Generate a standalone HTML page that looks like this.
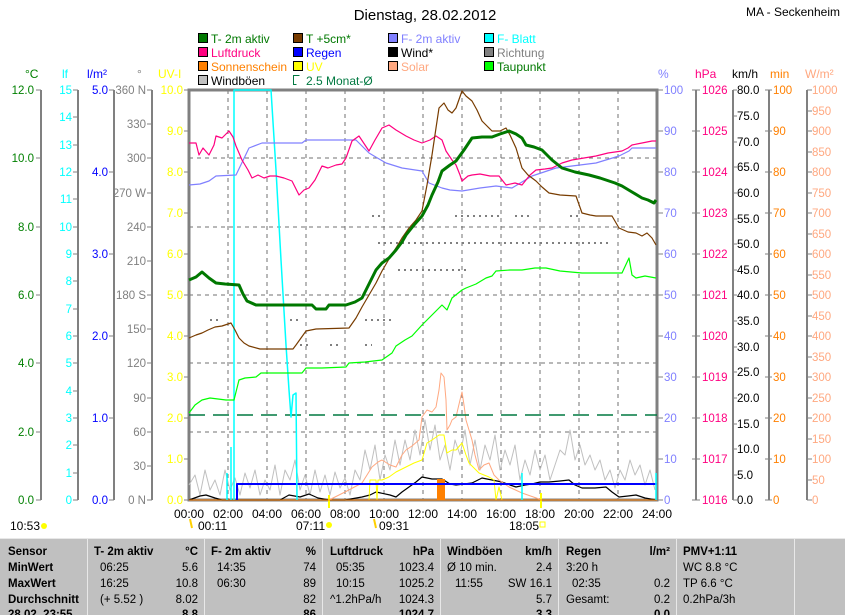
<!DOCTYPE html>
<html><head><meta charset="utf-8"><style>
body{margin:0;background:#fff;width:845px;height:615px;overflow:hidden}
svg{display:block;font-family:"Liberation Sans",sans-serif}
</style></head><body>
<svg width="845" height="615" viewBox="0 0 845 615" xmlns="http://www.w3.org/2000/svg">
<rect width="845" height="615" fill="#fff"/>
<text x="425" y="20" font-size="15" text-anchor="middle" fill="#000">Dienstag, 28.02.2012</text>
<text x="840" y="16" font-size="12" text-anchor="end" fill="#000">MA - Seckenheim</text>
<!-- legend -->
<g font-size="12" stroke="#000" stroke-width="1">
<rect x="198.5" y="33.5" width="9" height="9" fill="#007800"/>
<rect x="293.5" y="33.5" width="9" height="9" fill="#783c00"/>
<rect x="388.5" y="33.5" width="9" height="9" fill="#8080ff"/>
<rect x="484.5" y="33.5" width="9" height="9" fill="#00ffff"/>
<rect x="198.5" y="47.5" width="9" height="9" fill="#ff0080"/>
<rect x="293.5" y="47.5" width="9" height="9" fill="#0000ff"/>
<rect x="388.5" y="47.5" width="9" height="9" fill="#000"/>
<rect x="484.5" y="47.5" width="9" height="9" fill="#808080"/>
<rect x="198.5" y="61.5" width="9" height="9" fill="#ff8000"/>
<rect x="293.5" y="61.5" width="9" height="9" fill="#ffff00"/>
<rect x="388.5" y="61.5" width="9" height="9" fill="#ffa880"/>
<rect x="484.5" y="61.5" width="9" height="9" fill="#00ff00"/>
<rect x="198.5" y="75.5" width="9" height="9" fill="#c0c0c0"/>
<path d="M299.5 75.5h-6v9h3" fill="none" stroke="#007840"/>
</g>
<g font-size="12" stroke="none">
<text x="211" y="43" fill="#007800">T- 2m aktiv</text>
<text x="306" y="43" fill="#007800">T +5cm*</text>
<text x="401" y="43" fill="#8080ff">F- 2m aktiv</text>
<text x="497" y="43" fill="#00ffff">F- Blatt</text>
<text x="211" y="57" fill="#ff0080">Luftdruck</text>
<text x="306" y="57" fill="#0000ff">Regen</text>
<text x="401" y="57" fill="#000">Wind*</text>
<text x="497" y="57" fill="#808080">Richtung</text>
<text x="211" y="71" fill="#ff8000">Sonnenschein</text>
<text x="306" y="71" fill="#ffff00">UV</text>
<text x="401" y="71" fill="#ffa880">Solar</text>
<text x="497" y="71" fill="#007800">Taupunkt</text>
<text x="211" y="85" fill="#000">Windböen</text>
<text x="306" y="85" fill="#007840">2.5 Monat-Ø</text>
</g>
<!-- unit headers -->
<g font-size="12">
<text x="25" y="78" fill="#008000">°C</text>
<text x="62" y="78" fill="#00ffff">lf</text>
<text x="87" y="78" fill="#0000ff">l/m²</text>
<text x="137" y="78" fill="#808080">°</text>
<text x="158" y="78" fill="#ffff00">UV-I</text>
<text x="658" y="78" fill="#8080ff">%</text>
<text x="695" y="78" fill="#ff0080">hPa</text>
<text x="732" y="78" fill="#000">km/h</text>
<text x="770" y="78" fill="#ff8000">min</text>
<text x="805" y="78" fill="#ffa880">W/m²</text>
</g>
<!-- axis lines -->
<g stroke="#808080" stroke-width="2">
<line x1="41" y1="90" x2="41" y2="500"/><line x1="78" y1="90" x2="78" y2="500"/>
<line x1="114" y1="90" x2="114" y2="500"/><line x1="152" y1="90" x2="152" y2="500"/>
<line x1="696" y1="90" x2="696" y2="500"/><line x1="733" y1="90" x2="733" y2="500"/>
<line x1="769" y1="90" x2="769" y2="500"/><line x1="807" y1="90" x2="807" y2="500"/>
</g>
<!-- grid -->
<g stroke="#707070" stroke-width="1" stroke-dasharray="4,4">
<path d="M228 90V500M267 90V500M306 90V500M345 90V500M384 90V500M423 90V500M462 90V500M501 90V500M540 90V500M579 90V500M618 90V500"/>
<path d="M189 158H657M189 227H657M189 295H657M189 363H657M189 432H657"/>
</g>
<rect x="189" y="90" width="468" height="410" fill="none" stroke="#808080" stroke-width="3"/>
<!-- left ticks & labels -->
<g font-size="11.5" text-anchor="end">
<g fill="#008000"><text x="34" y="94">12.0</text><text x="34" y="162">10.0</text><text x="34" y="231">8.0</text><text x="34" y="299">6.0</text><text x="34" y="367">4.0</text><text x="34" y="436">2.0</text><text x="34" y="504">0.0</text></g>
<path stroke="#808080" d="M36 90H41M36 158H41M36 227H41M36 295H41M36 363H41M36 432H41M36 500H41"/>
<g fill="#00ffff"><text x="72" y="94">15</text><text x="72" y="121">14</text><text x="72" y="149">13</text><text x="72" y="176">12</text><text x="72" y="203">11</text><text x="72" y="231">10</text><text x="72" y="258">9</text><text x="72" y="285">8</text><text x="72" y="313">7</text><text x="72" y="340">6</text><text x="72" y="367">5</text><text x="72" y="395">4</text><text x="72" y="422">3</text><text x="72" y="449">2</text><text x="72" y="477">1</text><text x="72" y="504">0</text></g>
<path stroke="#808080" d="M73 90H78M73 117H78M73 145H78M73 172H78M73 199H78M73 227H78M73 254H78M73 281H78M73 309H78M73 336H78M73 363H78M73 391H78M73 418H78M73 445H78M73 473H78M73 500H78"/>
<g fill="#0000ff"><text x="108" y="94">5.0</text><text x="108" y="176">4.0</text><text x="108" y="258">3.0</text><text x="108" y="340">2.0</text><text x="108" y="422">1.0</text><text x="108" y="504">0.0</text></g>
<path stroke="#808080" d="M109 90H114M109 172H114M109 254H114M109 336H114M109 418H114M109 500H114"/>
<g fill="#808080"><text x="146" y="94">360 N</text><text x="146" y="128">330</text><text x="146" y="162">300</text><text x="146" y="197">270 W</text><text x="146" y="231">240</text><text x="146" y="265">210</text><text x="146" y="299">180 S</text><text x="146" y="333">150</text><text x="146" y="367">120</text><text x="146" y="402">90</text><text x="146" y="436">60</text><text x="146" y="470">30</text><text x="146" y="504">0 N</text></g>
<path stroke="#808080" d="M147 90H152M147 124H152M147 158H152M147 193H152M147 227H152M147 261H152M147 295H152M147 329H152M147 363H152M147 398H152M147 432H152M147 466H152M147 500H152"/>
<g fill="#ffff00"><text x="183" y="94">10.0</text><text x="183" y="135">9.0</text><text x="183" y="176">8.0</text><text x="183" y="217">7.0</text><text x="183" y="258">6.0</text><text x="183" y="299">5.0</text><text x="183" y="340">4.0</text><text x="183" y="381">3.0</text><text x="183" y="422">2.0</text><text x="183" y="463">1.0</text><text x="183" y="504">0.0</text></g>
<path stroke="#808080" d="M184 90H189M184 131H189M184 172H189M184 213H189M184 254H189M184 295H189M184 336H189M184 377H189M184 418H189M184 459H189M184 500H189"/>
</g>
<!-- right ticks & labels -->
<g font-size="11.5">
<g fill="#8080ff"><text x="664" y="94">100</text><text x="664" y="135">90</text><text x="664" y="176">80</text><text x="664" y="217">70</text><text x="664" y="258">60</text><text x="664" y="299">50</text><text x="664" y="340">40</text><text x="664" y="381">30</text><text x="664" y="422">20</text><text x="664" y="463">10</text><text x="664" y="504">0</text></g>
<path stroke="#808080" d="M657 90H663M657 131H663M657 172H663M657 213H663M657 254H663M657 295H663M657 336H663M657 377H663M657 418H663M657 459H663M657 500H663"/>
<g fill="#ff0080"><text x="702" y="94">1026</text><text x="702" y="135">1025</text><text x="702" y="176">1024</text><text x="702" y="217">1023</text><text x="702" y="258">1022</text><text x="702" y="299">1021</text><text x="702" y="340">1020</text><text x="702" y="381">1019</text><text x="702" y="422">1018</text><text x="702" y="463">1017</text><text x="702" y="504">1016</text></g>
<path stroke="#808080" d="M692 90H700M692 131H700M692 172H700M692 213H700M692 254H700M692 295H700M692 336H700M692 377H700M692 418H700M692 459H700M692 500H700"/>
<g fill="#000"><text x="737" y="94">80.0</text><text x="737" y="120">75.0</text><text x="737" y="146">70.0</text><text x="737" y="171">65.0</text><text x="737" y="197">60.0</text><text x="737" y="223">55.0</text><text x="737" y="248">50.0</text><text x="737" y="274">45.0</text><text x="737" y="299">40.0</text><text x="737" y="325">35.0</text><text x="737" y="351">30.0</text><text x="737" y="376">25.0</text><text x="737" y="402">20.0</text><text x="737" y="428">15.0</text><text x="737" y="453">10.0</text><text x="737" y="479">5.0</text><text x="737" y="504">0.0</text></g>
<path stroke="#808080" d="M733 90H737M733 116H737M733 142H737M733 167H737M733 193H737M733 219H737M733 244H737M733 270H737M733 295H737M733 321H737M733 347H737M733 372H737M733 398H737M733 424H737M733 449H737M733 475H737M733 500H737"/>
<g fill="#ff8000"><text x="773" y="94">100</text><text x="773" y="135">90</text><text x="773" y="176">80</text><text x="773" y="217">70</text><text x="773" y="258">60</text><text x="773" y="299">50</text><text x="773" y="340">40</text><text x="773" y="381">30</text><text x="773" y="422">20</text><text x="773" y="463">10</text><text x="773" y="504">0</text></g>
<path stroke="#808080" d="M765 90H772M765 131H772M765 172H772M765 213H772M765 254H772M765 295H772M765 336H772M765 377H772M765 418H772M765 459H772M765 500H772"/>
<g fill="#ffa880"><text x="812" y="94">1000</text><text x="812" y="115">950</text><text x="812" y="135">900</text><text x="812" y="156">850</text><text x="812" y="176">800</text><text x="812" y="197">750</text><text x="812" y="217">700</text><text x="812" y="238">650</text><text x="812" y="258">600</text><text x="812" y="279">550</text><text x="812" y="299">500</text><text x="812" y="320">450</text><text x="812" y="340">400</text><text x="812" y="361">350</text><text x="812" y="381">300</text><text x="812" y="402">250</text><text x="812" y="422">200</text><text x="812" y="443">150</text><text x="812" y="463">100</text><text x="812" y="484">50</text><text x="812" y="504">0</text></g>
<path stroke="#808080" d="M807 90H812M807 111H812M807 131H812M807 152H812M807 172H812M807 193H812M807 213H812M807 234H812M807 254H812M807 275H812M807 295H812M807 316H812M807 336H812M807 357H812M807 377H812M807 398H812M807 418H812M807 439H812M807 459H812M807 480H812M807 500H812"/>
</g>
<!-- series -->
<g fill="none" stroke-linejoin="round">
<path stroke="#808080" stroke-width="2" stroke-dasharray="2,4" d="M372 216H380M455 216H500M515 216H530M570 216H580M378 243H420M420 243H610M398 270H470M210 320H220M290 320H300M365 320H395M300 345H310M330 345H340M365 345H372"/>
<path stroke="#c0c0c0" d="M189 485L195 475L200 495L205 470L210 490L215 480L220 495L225 470L230 490L235 478L240 495L245 473L250 488L255 470L260 495L265 480L270 490L275 465L280 495L285 470L290 480L295 460L300 490L305 475L310 495L315 470L320 492L325 475L330 495L335 472L340 488L345 478L350 495L355 470L360 480L365 450L370 470L375 445L380 480L385 455L390 470L395 440L400 465L405 440L410 460L415 430L420 455L425 420L430 450L435 425L440 460L445 445L450 470L455 440L460 455L465 430L470 465L475 440L480 470L485 445L490 460L495 435L500 470L505 450L510 465L515 445L520 480L525 460L530 475L535 450L540 470L545 455L550 480L555 465L560 450L565 455L570 430L575 460L580 445L585 465L590 455L595 470L600 460L605 480L610 470L615 488L620 470L625 480L630 460L635 475L640 465L645 485L650 470L655 490"/>
<path stroke="#000" stroke-width="1.2" d="M189 500L200 496L206 495L215 498L222 500L280 500L289 495L300 497L309 494L318 498L329 500L345 500L362 497L370 495L376 492L390 495L396 497L402 492L409 487L416 482L422 477L432 479L442 479L450 484L456 485L464 484L472 483L478 480L482 478L492 480L502 482L510 485L516 487L525 485L532 484L540 482L549 482L560 481L569 480L575 485L582 488L595 488L606 487L612 492L619 497L628 496L636 495L645 498L656 500"/>
<path stroke="#ffa880" d="M329 500L345 492L362 483L367 475L372 467L378 462L382 460L390 465L396 467L402 455L406 450L412 446L419 440L422 417L427 410L432 412L436 407L439 390L441 373L444 377L446 400L447 430L450 425L452 420L456 417L460 400L462 392L464 405L466 420L469 430L472 440L475 455L479 470L484 465L489 463L494 475L499 480L509 487L522 493L542 500"/>
<path stroke="#ffff00" d="M369 500L370 480L376 480L377 500L378 480L382 480L389 477L396 472L406 467L414 463L422 460L427 443L432 440L439 435L444 435L447 453L452 450L456 450L462 443L466 455L469 463L474 468L479 473L489 477L494 480L496 500L499 487L502 500"/>
<path stroke="#ffff00" stroke-width="2" d="M329 495V508M541 493V508"/>
<rect x="437" y="479" width="8" height="21" fill="#ff8000" stroke="none"/>
<path stroke="#ff8000" d="M189 500H657"/>
<path stroke="#0000ff" stroke-width="2" d="M237 500V484H657"/>
<path stroke="#007840" stroke-width="1.5" stroke-dasharray="16,8" d="M189 415H657"/>
<path stroke="#00ffff" stroke-width="1.5" d="M227 473V500M231 447V500M234 500V90H271L276 170L281 260L286 345L289 390L291 417L293 395L296 393L297 500M522 473V500M656 473V500"/>
<path stroke="#00ff00" stroke-width="1.2" d="M189 413L195 405L202 400L210 398L218 399L226 400L234 400L239 380L245 378L256 377L261 373L280 373L302 373L306 368L322 368L346 367L349 363L365 362L382 360L392 353L396 346L405 340L412 336L422 325L432 315L442 305L447 310L452 298L462 290L466 288L476 284L486 278L492 276L496 271L510 270L522 270L535 268L546 268L560 271L582 273L600 273L622 273L629 258L632 275L636 278L645 276L656 278"/>
<path stroke="#8080ff" stroke-width="1.2" d="M189 185L200 184L209 181L216 176L236 175L249 148L262 143L302 143L306 140L356 140L369 153L386 163L402 168L422 171L429 183L442 188L450 190L462 191L480 188L496 186L512 188L532 176L556 168L596 163L619 156L629 151L632 148L656 148"/>
<path stroke="#ff0080" stroke-width="1.2" d="M189 143L196 143L199 155L203 148L209 155L214 145L216 136L222 138L229 131L233 137L236 146L242 160L248 170L252 178L258 175L264 178L270 176L276 176L284 178L292 181L299 195L304 190L309 188L315 180L322 166L328 168L336 165L342 164L346 158L352 141L359 136L365 145L369 151L375 140L382 128L389 125L396 130L406 136L414 140L422 143L430 140L436 136L442 140L446 151L452 160L456 165L460 175L462 181L468 176L472 175L480 174L490 176L499 176L506 185L515 183L522 185L530 175L536 170L545 169L552 168L562 163L572 160L584 158L596 156L608 153L622 151L628 148L632 145L642 143L652 141L656 141"/>
<path stroke="#783c00" stroke-width="1.2" d="M189 338L196 335L202 333L208 330L215 327L222 326L228 324L231 323L235 330L239 338L244 343L249 346L260 349L293 349L296 345L306 331L316 329L349 328L356 318L362 307L369 295L376 283L382 271L389 259L396 248L402 238L409 228L416 220L422 211L427 185L432 155L436 128L439 108L444 103L448 110L452 113L456 108L462 91L466 96L472 101L477 110L482 121L487 126L492 131L500 131L506 128L510 135L516 148L522 168L528 175L536 181L542 187L549 193L560 195L576 196L582 213L590 215L596 216L612 216L619 228L628 232L636 233L642 236L647 233L652 238L656 245"/>
<path stroke="#007800" stroke-width="3" d="M189 280L196 277L202 272L209 278L216 283L225 284L239 285L243 294L247 301L256 305L312 305L316 309L326 309L329 305L346 305L355 302L362 298L369 284L376 270L382 263L389 258L396 250L402 242L406 235L414 225L422 216L428 205L432 195L438 182L442 171L450 165L456 161L464 150L472 138L482 137L492 137L500 134L509 131L516 134L522 138L526 145L534 147L542 150L552 160L562 168L575 172L589 175L600 178L609 181L615 183L622 186L632 192L642 198L648 200L654 203L656 200"/>
</g>
<!-- time axis -->
<g font-size="12" text-anchor="middle" fill="#000">
<text x="189" y="518">00:00</text><text x="228" y="518">02:00</text><text x="267" y="518">04:00</text><text x="306" y="518">06:00</text><text x="345" y="518">08:00</text><text x="384" y="518">10:00</text><text x="423" y="518">12:00</text><text x="462" y="518">14:00</text><text x="501" y="518">16:00</text><text x="540" y="518">18:00</text><text x="579" y="518">20:00</text><text x="618" y="518">22:00</text><text x="657" y="518">24:00</text>
</g>
<g font-size="12" fill="#000">
<text x="10" y="530">10:53</text><text x="198" y="530">00:11</text><text x="296" y="530">07:11</text><text x="379" y="530">09:31</text><text x="509" y="530">18:05</text>
</g>
<g fill="#ffff00"><circle cx="44" cy="526" r="3"/><circle cx="329" cy="525" r="3"/><rect x="540" y="522" width="5" height="5" fill="none" stroke="#ffff00"/></g>
<path d="M190 519L192 528M374 519L376 528" stroke="#ffd000" stroke-width="2"/>
<!-- table -->
<rect x="0" y="538" width="845" height="77" fill="#c0c0c0"/>
<g stroke="#e8e8e8" stroke-width="1"><path d="M0 538.5H845M87.5 538V615M204.5 538V615M322.5 538V615M440.5 538V615M558.5 538V615M676.5 538V615M794.5 538V615"/></g>
<g font-size="11.5" fill="#000">
<g font-weight="bold"><text x="8" y="555">Sensor</text><text x="8" y="571">MinWert</text><text x="8" y="587">MaxWert</text><text x="8" y="603">Durchschnitt</text><text x="8" y="618">28.02. 23:55</text>
<text x="94" y="555">T- 2m aktiv</text><text x="198" y="555" text-anchor="end">°C</text>
<text x="211" y="555">F- 2m aktiv</text><text x="316" y="555" text-anchor="end">%</text>
<text x="330" y="555">Luftdruck</text><text x="434" y="555" text-anchor="end">hPa</text>
<text x="447" y="555">Windböen</text><text x="552" y="555" text-anchor="end">km/h</text>
<text x="566" y="555">Regen</text><text x="670" y="555" text-anchor="end">l/m²</text>
<text x="683" y="555">PMV+1:11</text>
<text x="198" y="618" text-anchor="end">8.8</text><text x="316" y="618" text-anchor="end">86</text><text x="434" y="618" text-anchor="end">1024.7</text><text x="552" y="618" text-anchor="end">3.3</text><text x="670" y="618" text-anchor="end">0.0</text></g>
<text x="100" y="571">06:25</text><text x="198" y="571" text-anchor="end">5.6</text>
<text x="100" y="587">16:25</text><text x="198" y="587" text-anchor="end">10.8</text>
<text x="100" y="603">(+ 5.52 )</text><text x="198" y="603" text-anchor="end">8.02</text>
<text x="217" y="571">14:35</text><text x="316" y="571" text-anchor="end">74</text>
<text x="217" y="587">06:30</text><text x="316" y="587" text-anchor="end">89</text>
<text x="316" y="603" text-anchor="end">82</text>
<text x="336" y="571">05:35</text><text x="434" y="571" text-anchor="end">1023.4</text>
<text x="336" y="587">10:15</text><text x="434" y="587" text-anchor="end">1025.2</text>
<text x="330" y="603">^1.2hPa/h</text><text x="434" y="603" text-anchor="end">1024.3</text>
<text x="447" y="571">Ø 10 min.</text><text x="552" y="571" text-anchor="end">2.4</text>
<text x="455" y="587">11:55</text><text x="552" y="587" text-anchor="end">SW 16.1</text>
<text x="552" y="603" text-anchor="end">5.7</text>
<text x="566" y="571">3:20 h</text>
<text x="572" y="587">02:35</text><text x="670" y="587" text-anchor="end">0.2</text>
<text x="566" y="603">Gesamt:</text><text x="670" y="603" text-anchor="end">0.2</text>
<text x="683" y="571">WC 8.8 °C</text><text x="683" y="587">TP 6.6 °C</text><text x="683" y="603">0.2hPa/3h</text>
</g>
</svg>
</body></html>
